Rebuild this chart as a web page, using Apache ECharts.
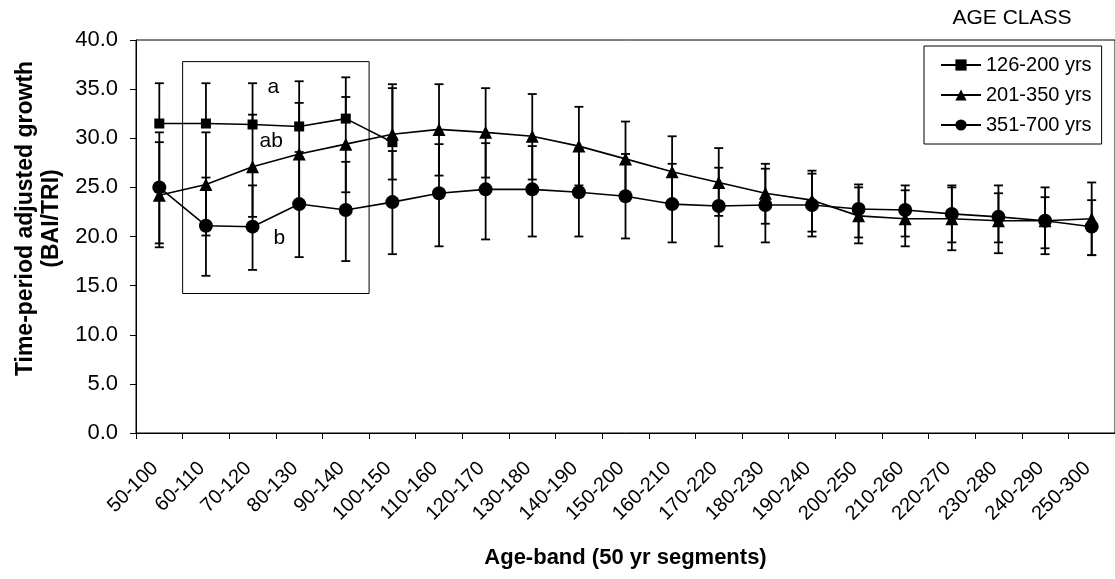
<!DOCTYPE html>
<html><head><meta charset="utf-8">
<script src="https://cdn.jsdelivr.net/npm/echarts@6/dist/echarts.min.js"></script>
<style>html,body{margin:0;padding:0;background:#fff}#c{width:1115px;height:579px}</style>
</head><body><div id="c"></div>
<script>
const categories = ['50-100','60-110','70-120','80-130','90-140','100-150','110-160','120-170','130-180','140-190','150-200','160-210','170-220','180-230','190-240','200-250','210-260','220-270','230-280','240-290','250-300'];
const seriesNames = ['126-200 yrs','201-350 yrs','351-700 yrs'];

// 126-200 yrs (squares) - plus-only error bars
const sqValues = [31.5, 31.5, 31.4, 31.2, 32.0, 29.6];
const sqHigh   = [35.6, 35.6, 35.6, 35.8, 36.2, 35.5];

// 201-350 yrs (triangles)
const triValues = [24.2, 25.3, 27.1, 28.4, 29.4, 30.4, 30.9, 30.6, 30.2, 29.2, 27.9, 26.6, 25.5, 24.4, 23.7, 22.1, 21.8, 21.8, 21.6, 21.6, 21.8];
const triHigh   = [29.6, 30.6, 32.4, 33.6, 34.2, 35.1, 35.5, 35.1, 34.5, 33.2, 31.7, 30.2, 29.0, 27.4, 26.7, 25.0, 24.7, 25.0, 25.2, 25.0, 25.5];
const triLow    = [18.9, 20.1, 22.0, 23.2, 24.5, 25.8, 26.2, 26.0, 25.8, 25.2, 24.1, 23.0, 22.1, 21.3, 20.5, 19.3, 19.0, 18.6, 18.3, 18.2, 18.1];

// 351-700 yrs (circles)
const cirValues = [25.0, 21.1, 21.0, 23.3, 22.7, 23.5, 24.4, 24.8, 24.8, 24.5, 24.1, 23.3, 23.1, 23.2, 23.2, 22.8, 22.7, 22.3, 22.0, 21.6, 21.0];
const cirHigh   = [30.6, 26.0, 25.2, 28.6, 27.6, 28.7, 29.4, 29.5, 29.2, 29.0, 28.4, 27.4, 27.0, 26.9, 26.4, 25.3, 25.2, 25.2, 24.4, 24.0, 23.7];
const cirLow    = [19.3, 16.0, 16.6, 17.9, 17.5, 18.2, 19.0, 19.7, 20.0, 20.0, 19.8, 19.4, 19.0, 19.4, 20.0, 19.9, 20.0, 19.4, 19.4, 18.8, 18.1];

// annotation letters: [category index, y value, text, offset as fraction of band]
const annoLetters = [[2, 35.2, 'a', 0.32], [2, 29.7, 'ab', 0.15], [2, 19.8, 'b', 0.45]];
// annotation box: [first category, last category, top value, bottom value]
const annoBox = [[1, 4, 37.8, 14.2]];

const yMin = 0, yMax = 40, yStep = 5;
const FONT = "'Liberation Sans', Arial, sans-serif";

function errData(values, high, low) {
  return values.map((v, i) => [i, high[i], low ? low[i] : v, low ? 1 : 0]);
}
function errSeries(data) {
  return {
    type: 'custom', silent: true, z: 2, data: data,
    encode: {x: 0, y: [1, 2]},
    renderItem: function (params, api) {
      const i = api.value(0);
      const top = api.coord([i, api.value(1)]);
      const bot = api.coord([i, api.value(2)]);
      const hasLow = api.value(3) === 1;
      const hw = 4.5;
      const st = {stroke: '#000', lineWidth: 1.8};
      const ch = [
        {type: 'line', shape: {x1: top[0], y1: top[1], x2: bot[0], y2: bot[1]}, style: st},
        {type: 'line', shape: {x1: top[0] - hw, y1: top[1], x2: top[0] + hw, y2: top[1]}, style: st}
      ];
      if (hasLow) ch.push({type: 'line', shape: {x1: bot[0] - hw, y1: bot[1], x2: bot[0] + hw, y2: bot[1]}, style: st});
      return {type: 'group', children: ch};
    }
  };
}

const chart = echarts.init(document.getElementById('c'), null, {renderer: 'canvas'});
chart.setOption({
  animation: false,
  backgroundColor: '#fff',
  textStyle: {fontFamily: FONT, color: '#000'},
  title: {text: 'AGE CLASS', left: 1012, top: 8, padding: 0, textAlign: 'center',
    textStyle: {fontFamily: FONT, fontSize: 21, fontWeight: 'normal', color: '#000'}},
  legend: {
    orient: 'vertical', left: 924, top: 46, padding: [8, 10, 8, 16], itemGap: 8,
    itemWidth: 40, itemHeight: 14, borderColor: '#000', borderWidth: 1, borderRadius: 0,
    textStyle: {fontFamily: FONT, fontSize: 20, color: '#000', lineHeight: 22},
    data: seriesNames
  },
  grid: {left: 136, right: -3, top: 40, bottom: 146, show: true, borderColor: '#000', borderWidth: 1, backgroundColor: 'transparent', containLabel: false},
  xAxis: {
    type: 'category', data: categories, boundaryGap: true,
    name: 'Age-band (50 yr segments)', nameLocation: 'middle', nameGap: 114,
    nameTextStyle: {fontFamily: FONT, fontSize: 22, fontWeight: 'bold', color: '#000'},
    axisLine: {show: true, lineStyle: {color: '#000', width: 1}},
    axisTick: {show: true, length: 6, interval: 0, lineStyle: {color: '#000'}},
    axisLabel: {interval: 0, rotate: 45, fontSize: 20, margin: 28, padding: [0, 6, 6, 0], color: '#000', fontFamily: FONT},
    splitLine: {show: false}
  },
  yAxis: {
    type: 'value', min: yMin, max: yMax, interval: yStep,
    name: 'Time-period adjusted growth\n(BAI/TRI)', nameLocation: 'middle', nameGap: 71,
    nameTextStyle: {fontFamily: FONT, fontSize: 23, fontWeight: 'bold', color: '#000', lineHeight: 26, padding: [0, 0, 0, 36]},
    axisLine: {show: true, lineStyle: {color: '#000', width: 1}},
    axisTick: {show: true, length: 6, lineStyle: {color: '#000'}},
    axisLabel: {fontSize: 22, margin: 18, color: '#000', fontFamily: FONT, formatter: v => v.toFixed(1)},
    splitLine: {show: false}
  },
  series: [
    errSeries(errData(sqValues, sqHigh, null)),
    errSeries(errData(triValues, triHigh, triLow)),
    errSeries(errData(cirValues, cirHigh, cirLow)),
    {name: seriesNames[0], type: 'line', data: sqValues, symbol: 'rect', symbolSize: 10, z: 4,
      lineStyle: {color: '#000', width: 1.6}, itemStyle: {color: '#000'}},
    {name: seriesNames[1], type: 'line', data: triValues, symbol: 'triangle', symbolSize: 13, z: 4,
      lineStyle: {color: '#000', width: 1.6}, itemStyle: {color: '#000'}},
    {name: seriesNames[2], type: 'line', data: cirValues, symbol: 'circle', symbolSize: 14, z: 4,
      lineStyle: {color: '#000', width: 1.6}, itemStyle: {color: '#000'}},
    {type: 'custom', silent: true, z: 1, data: annoBox, encode: {x: [0, 1], y: [2, 3]},
      renderItem: function (params, api) {
        const p1 = api.coord([api.value(0), api.value(2)]);
        const p2 = api.coord([api.value(1), api.value(3)]);
        const bw = api.size([1, 0])[0];
        return {type: 'rect', shape: {x: p1[0] - bw / 2, y: p1[1], width: p2[0] - p1[0] + bw, height: p2[1] - p1[1]},
          style: {fill: 'none', stroke: '#000', lineWidth: 1}};
      }},
    {type: 'custom', silent: true, z: 5, data: annoLetters, encode: {x: 0, y: 1},
      renderItem: function (params, api) {
        const d = annoLetters[params.dataIndex];
        const p = api.coord([d[0], d[1]]);
        const bw = api.size([1, 0])[0];
        return {type: 'text', x: p[0] + d[3] * bw, y: p[1],
          style: {text: d[2], fill: '#000', font: "21px " + FONT, textAlign: 'left', textVerticalAlign: 'middle'}};
      }}
  ]
});
</script></body></html>
